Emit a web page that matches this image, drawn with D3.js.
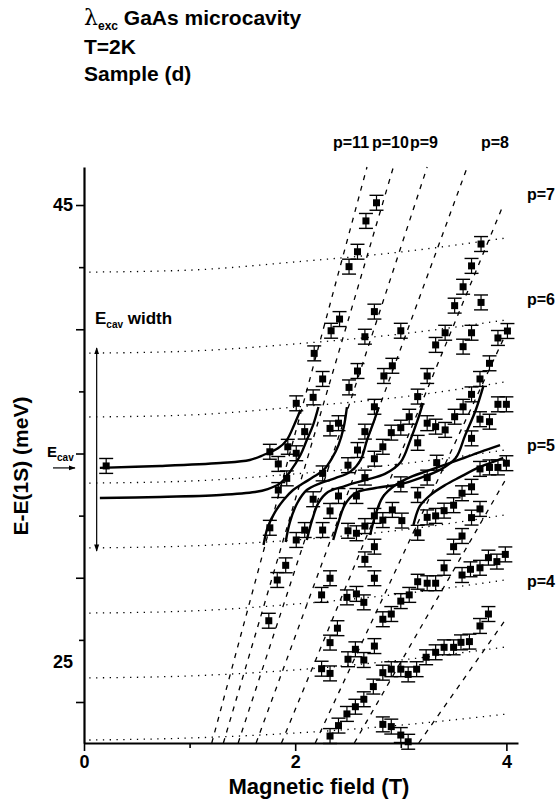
<!DOCTYPE html>
<html>
<head>
<meta charset="utf-8">
<script src="https://cdn.jsdelivr.net/npm/d3@7"></script>
<style>
  body { margin: 0; background: #fff; }
  text { font-family: "Liberation Sans", Arial, sans-serif; font-weight: bold; fill: #000; }
</style>
</head>
<body>
<div id="chart"></div>
<script>
// measured points [B (T), E-E(1S) (meV)]
const points = [
  [0.21,34.50],
  [2.77,45.09],[2.67,44.36],[2.59,43.12],[2.51,42.52],[2.42,40.41],[2.34,39.94],[2.18,39.03],[2.26,38.00],
  [2.17,37.26],[2.01,37.02],[2.09,35.88],[1.93,35.27],[2.75,40.71],[2.66,39.70],[2.59,38.32],[2.51,37.66],
  [2.75,36.88],[2.33,36.01],[2.41,36.22],[2.66,35.88],[3.00,39.94],[2.92,38.53],[2.84,38.12],[3.25,38.12],
  [3.16,37.29],[3.08,36.48],[3.00,36.04],[2.91,35.84],[2.83,35.27],[3.16,35.43],[3.25,36.22],[3.33,36.08],
  [3.42,35.95],[3.76,43.43],[3.67,42.55],[3.59,41.71],[3.51,40.95],[3.76,41.08],[3.42,39.86],[3.33,39.37],
  [3.67,39.86],[3.59,39.30],[4.01,39.93],[3.92,39.65],[3.84,38.63],[3.75,38.00],[3.67,37.38],[3.59,36.88],
  [3.51,36.48],[3.92,36.98],[4.00,36.98],[3.75,36.38],[3.84,36.28],[3.67,35.61],
  [1.76,35.07],[2.01,35.01],[1.84,34.58],[1.92,34.00],[1.84,33.53],[2.26,34.20],[2.17,33.16],[2.33,32.69],
  [2.41,33.29],[2.50,34.53],[2.59,35.14],[2.58,33.29],[2.66,34.03],[2.75,34.79],[1.76,32.01],[2.09,31.92],
  [2.01,31.52],[2.26,31.92],[2.50,31.89],[2.58,31.79],[2.66,32.08],[2.75,32.49],[2.83,32.32],[2.92,32.73],
  [3.01,32.30],[2.75,31.25],[2.66,30.74],[3.00,33.76],[3.16,33.33],[3.25,34.03],[3.34,34.63],[3.16,31.81],
  [3.25,32.43],[3.33,32.49],[3.41,32.70],[3.50,32.92],[3.58,33.40],[3.67,33.66],[3.75,34.38],[3.84,34.44],
  [3.92,34.44],[4.00,34.61],[3.75,32.77],[3.67,32.42],[3.58,31.68],[3.50,31.25],[3.41,30.40],[3.99,30.94],
  [3.91,30.65],[3.83,30.81],[3.75,30.40],[3.66,30.34],[3.58,30.11],[3.33,29.78],[3.25,29.78],[3.16,29.84],
  [3.08,29.31],[3.00,29.06],[2.91,28.54],[2.83,28.33],[2.75,29.98],[2.33,29.98],[2.25,29.31],[2.49,29.21],
  [2.58,29.35],[2.65,29.01],[1.91,30.50],[1.83,29.91],[1.75,28.27],[2.40,27.97],[2.33,27.39],[2.75,27.25],
  [2.57,27.12],[2.50,26.72],[2.65,26.69],[2.25,26.34],[2.33,26.15],[2.83,26.18],[2.91,26.32],[3.00,26.32],
  [3.07,26.11],[3.15,26.32],[3.24,26.80],[3.33,27.00],[3.41,27.20],[3.50,27.20],[3.57,27.40],[3.65,27.43],
  [3.75,28.06],[3.83,28.54],[2.74,25.62],[2.65,25.11],[2.57,24.81],[2.49,24.52],[2.41,24.05],[2.33,23.63],
  [2.83,24.10],[2.91,24.01],[3.00,23.67],[3.07,23.40]
];
const errBar = 0.3; // meV

// dotted levels, sampled at these fields
const dotB = [0.05, 1, 2, 3, 3.99];
const dottedLevels = [
  [42.30, 42.38, 42.71, 43.11, 43.67],
  [39.04, 39.12, 39.41, 39.81, 40.37],
  [36.47, 36.55, 36.87, 37.27, 37.88],
  [33.81, 33.89, 34.18, 34.58, 35.14],
  [31.20, 31.28, 31.52, 31.92, 32.53],
  [28.58, 28.66, 28.94, 29.35, 29.91],
  [25.97, 26.05, 26.29, 26.69, 27.21],
  [23.47, 23.55, 23.75, 24.07, 24.51]
];

// dashed Landau lines: p, start [B,E], end [B,E]
const pLines = [
  [11, [1.21, 23.35], [2.68, 46.53]],
  [10, [1.32, 23.35], [2.93, 46.53]],
  [9,  [1.46, 23.35], [3.25, 46.53]],
  [8,  [1.63, 23.35], [3.63, 46.53]],
  [7,  [1.87, 23.35], [3.97, 45.00]],
  [6,  [2.19, 23.35], [3.99, 39.77]],
  [5,  [2.56, 23.35], [3.99, 33.93]],
  [4,  [3.17, 23.35], [3.99, 28.30]]
];

// solid fitted branches
const branches = [
  [[0.15,34.42],[0.72,34.50],[1.29,34.62],[1.57,34.74],[1.70,34.94],[1.84,35.22],[1.92,35.54],[1.99,36.15],[2.05,36.75]],
  [[0.15,33.21],[0.72,33.25],[1.29,33.33],[1.62,33.45],[1.74,33.57],[1.86,33.81],[1.95,34.26],[2.05,34.94],[2.11,35.54],[2.17,36.15],[2.22,36.87]],
  [[1.70,31.32],[1.74,32.04],[1.81,32.65],[1.89,33.13],[1.98,33.53],[2.08,33.81],[2.17,34.05],[2.27,34.34],[2.35,34.82],[2.41,35.34],[2.46,36.07],[2.49,36.87]],
  [[1.91,31.44],[1.95,32.24],[2.02,33.01],[2.11,33.53],[2.24,33.81],[2.38,34.01],[2.52,34.26],[2.62,34.74],[2.68,35.54],[2.74,36.23],[2.79,36.87]],
  [[2.11,31.52],[2.16,32.32],[2.22,33.01],[2.31,33.45],[2.47,33.69],[2.66,33.93],[2.85,34.18],[3.00,34.66],[3.09,35.54],[3.16,36.35],[3.21,37.03]],
  [[2.36,31.52],[2.41,32.24],[2.47,32.93],[2.57,33.41],[2.76,33.61],[3.00,33.77],[3.18,34.01],[3.37,34.34],[3.52,34.82],[3.61,35.74],[3.71,36.75],[3.78,37.68]],
  [[2.71,31.72],[2.76,32.53],[2.83,33.25],[2.95,33.73],[3.09,34.05],[3.28,34.34],[3.52,34.70],[3.75,35.06],[3.94,35.34]],
  [[3.12,32.12],[3.18,32.88],[3.28,33.33],[3.42,33.73],[3.56,34.05],[3.75,34.46],[3.90,34.70],[3.97,34.82]]
];

const xTicks = [0, 1, 2, 3, 4];
const xLabels = [0, 2, 4];
const yTicks = [25, 27.5, 30, 32.5, 35, 37.5, 40, 42.5, 45];
const yLabels = [25, 45];
const ecavE = 34.42;
const ecavWidth = [31.08, 39.25];

const W = 560, H = 800;
const svg = d3.select("#chart").append("svg")
    .attr("width", W)
    .attr("height", H);

const x = d3.scaleLinear().domain([0, 4.11]).range([84, 518]);
const y = d3.scaleLinear().domain([23.35, 46.53]).range([743, 167]);

// dotted levels
const dotLine = d3.line()
    .x((d, i) => x(dotB[i]))
    .y(d => y(d))
    .curve(d3.curveMonotoneX);
svg.selectAll(".level")
    .data(dottedLevels)
    .enter()
    .append("path")
    .attr("class", "level")
    .attr("d", dotLine)
    .attr("fill", "none")
    .attr("stroke", "#000")
    .attr("stroke-width", 1.3)
    .attr("stroke-dasharray", "1.3,5.5");

// dashed p lines
svg.selectAll(".pline")
    .data(pLines)
    .enter()
    .append("line")
    .attr("class", "pline")
    .attr("x1", d => x(d[1][0]))
    .attr("y1", d => y(d[1][1]))
    .attr("x2", d => x(d[2][0]))
    .attr("y2", d => y(d[2][1]))
    .attr("stroke", "#000")
    .attr("stroke-width", 1.3)
    .attr("stroke-dasharray", "5,6");

// solid branches
const solid = d3.line()
    .x(d => x(d[0]))
    .y(d => y(d[1]))
    .curve(d3.curveCatmullRom);
svg.selectAll(".branch")
    .data(branches)
    .enter()
    .append("path")
    .attr("class", "branch")
    .attr("d", solid)
    .attr("fill", "none")
    .attr("stroke", "#000")
    .attr("stroke-width", 2.4);

// error bars + squares
const pts = svg.append("g");
const g = pts.selectAll("g")
    .data(points)
    .enter()
    .append("g");
g.append("line")
    .attr("x1", d => x(d[0])).attr("x2", d => x(d[0]))
    .attr("y1", d => y(d[1] - errBar)).attr("y2", d => y(d[1] + errBar))
    .attr("stroke", "#000").attr("stroke-width", 1.2);
[-errBar, errBar].forEach(e => {
    g.append("line")
        .attr("x1", d => x(d[0]) - 7).attr("x2", d => x(d[0]) + 7)
        .attr("y1", d => y(d[1] + e)).attr("y2", d => y(d[1] + e))
        .attr("stroke", "#000").attr("stroke-width", 1.4);
});
g.append("rect")
    .attr("x", d => x(d[0]) - 3.5)
    .attr("y", d => y(d[1]) - 3.5)
    .attr("width", 7)
    .attr("height", 7)
    .attr("fill", "#000");

// axes
const xAxis = svg.append("g")
    .attr("transform", "translate(0,743)")
    .call(d3.axisBottom(x).tickValues(xTicks).tickSize(8).tickPadding(4).tickSizeOuter(0)
        .tickFormat(d => xLabels.includes(d) ? d : ""));
xAxis.select(".domain").attr("stroke-width", 2.2);
xAxis.selectAll(".tick line").attr("stroke-width", 1.6)
    .attr("y2", d => xLabels.includes(d) ? 8 : 5);
xAxis.selectAll("text").style("font-size", "18px").style("font-family", "Liberation Sans, Arial, sans-serif").style("font-weight", "bold");

const yAxis = svg.append("g")
    .attr("transform", "translate(84,0)")
    .call(d3.axisLeft(y).tickValues(yTicks).tickSize(8).tickPadding(3).tickSizeOuter(0)
        .tickFormat(d => yLabels.includes(d) ? d : ""));
yAxis.select(".domain").attr("stroke-width", 2.2);
yAxis.selectAll(".tick line").attr("stroke-width", 1.6)
    .attr("x2", d => d % 5 === 0 ? -8 : -5);
yAxis.selectAll("text").style("font-size", "18px").style("font-family", "Liberation Sans, Arial, sans-serif").style("font-weight", "bold")
    .attr("dy", d => d === 25 ? "-1.9em" : "0.32em");

// axis titles
svg.append("text")
    .attr("x", 319).attr("y", 794)
    .attr("text-anchor", "middle")
    .style("font-size", "22px")
    .text("Magnetic field (T)");
svg.append("text")
    .attr("transform", "translate(28,466) rotate(-90)")
    .attr("text-anchor", "middle")
    .style("font-size", "21px")
    .text("E-E(1S) (meV)");

// header
const t1 = svg.append("text").attr("x", 84).attr("y", 25).style("font-size", "21px");
t1.append("tspan").style("font-family", "DejaVu Serif, serif").style("font-weight", "normal").style("font-size", "22px").text("λ");
t1.append("tspan").attr("dy", 5).style("font-size", "12px").text("exc");
t1.append("tspan").attr("dy", -5).text(" GaAs microcavity");
svg.append("text").attr("x", 84).attr("y", 54).style("font-size", "21px").text("T=2K");
svg.append("text").attr("x", 84).attr("y", 81).style("font-size", "21px").text("Sample (d)");

// p labels
const topLabels = [["p=11", 333], ["p=10", 372], ["p=9", 410], ["p=8", 481]];
topLabels.forEach(d => svg.append("text").attr("x", d[1]).attr("y", 148).style("font-size", "16px").text(d[0]));
const sideLabels = [["p=7", 200], ["p=6", 305], ["p=5", 451], ["p=4", 587]];
sideLabels.forEach(d => svg.append("text").attr("x", 527).attr("y", d[1]).style("font-size", "16px").text(d[0]));

// E_cav width annotation
const ew = svg.append("text").attr("x", 95).attr("y", 324).style("font-size", "17px");
ew.append("tspan").text("E");
ew.append("tspan").attr("dy", 4).style("font-size", "10px").text("cav");
ew.append("tspan").attr("dy", -4).text(" width");

const defs = svg.append("defs");
defs.append("marker").attr("id", "ah").attr("viewBox", "0 0 10 10")
    .attr("refX", 9).attr("refY", 5).attr("markerWidth", 6).attr("markerHeight", 8)
    .attr("orient", "auto-start-reverse")
    .append("path").attr("d", "M0,1.5 L10,5 L0,8.5 Z").attr("fill", "#000");
svg.append("line")
    .attr("x1", x(0.12)).attr("x2", x(0.12))
    .attr("y1", y(ecavWidth[0])).attr("y2", y(ecavWidth[1]))
    .attr("stroke", "#000").attr("stroke-width", 1.2)
    .attr("marker-start", "url(#ah)").attr("marker-end", "url(#ah)");

const ec = svg.append("text").attr("x", 47).attr("y", 457).style("font-size", "15px");
ec.append("tspan").text("E");
ec.append("tspan").attr("dy", 4).style("font-size", "10px").text("cav");
svg.append("line")
    .attr("x1", 53).attr("x2", 75)
    .attr("y1", y(ecavE)).attr("y2", y(ecavE))
    .attr("stroke", "#000").attr("stroke-width", 1.2)
    .attr("marker-end", "url(#ah)");
</script>
</body>
</html>
